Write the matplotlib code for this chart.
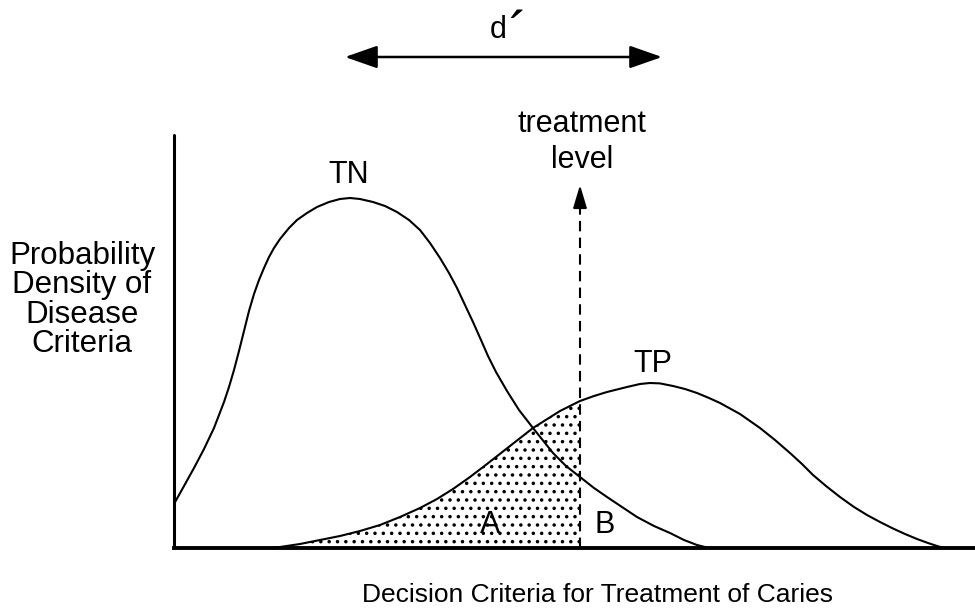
import matplotlib
matplotlib.use("Agg")
import matplotlib.pyplot as plt
import numpy as np

plt.rcParams['font.family'] = ['Liberation Sans', 'DejaVu Sans']
plt.rcParams['hatch.linewidth'] = 1.3

# curves (x = decision criterion, y = density, arbitrary units)
tn_x = [0, 10, 20, 30, 40, 50, 55, 60, 65, 70, 75, 80, 85, 90, 95, 100, 106, 115, 123,
        133, 143, 155, 166, 176, 186, 199, 211, 223, 235, 246, 256, 266, 275, 283, 291,
        299, 307, 314, 322, 333, 345, 359, 379, 392, 406, 420, 433, 448, 463, 480, 496,
        510, 523, 535]
tn_y = [44, 62, 80, 99, 120, 146, 161, 178, 197, 217, 237, 254, 268, 280, 291, 300, 309, 320, 328,
        335, 341, 346, 349, 350, 349, 346, 342, 336, 328, 318, 305, 290, 275, 260, 243,
        226, 208, 192, 176, 157, 138, 120, 95, 82, 71, 60, 51, 41, 31, 22, 15,
        8, 3, 0]

tp_x = [96, 106, 126, 146, 166, 186, 206, 226, 246, 263, 279, 296, 313, 336, 359, 386, 406,
        420, 433, 453, 466, 476, 486, 499, 511, 523, 535, 546, 566, 586, 601, 616, 628, 639,
        652, 666, 680, 693, 706, 719, 731, 743, 754, 763, 770]
tp_y = [0, 1, 4, 8, 12, 17, 23, 31, 40, 49, 59, 71, 84, 102, 120, 137, 147,
        152, 156, 161, 164, 165, 164.6, 162, 159, 155, 150, 145, 134, 120, 108, 95, 84, 73,
        62, 51, 41, 33, 26, 19.5, 14, 9, 5, 2, 0]

treatment = 406
d_prime = [171, 488]

fig = plt.figure(figsize=(9.75, 6.09), dpi=100)
ax = fig.add_axes([174 / 975, 61 / 609, 801 / 975, 413 / 609])
ax.set_xlim(0, 801)
ax.set_ylim(0, 413)

tn_x = np.array(tn_x); tn_y = np.array(tn_y)
tp_x = np.array(tp_x); tp_y = np.array(tp_y)

# area A (stippled)
ax.fill_between(tp_x, tp_y, where=tp_x <= treatment, facecolor='none',
                edgecolor='black', hatch='..', linewidth=0)

ax.plot(tn_x, tn_y, color='black', lw=1.5, solid_capstyle='round', solid_joinstyle='round')
ax.plot(tp_x, tp_y, color='black', lw=1.5, solid_capstyle='round', solid_joinstyle='round')

# treatment level
ax.plot([treatment, treatment], [0, 345], color='black', lw=1.5, ls=(0, (5, 3)))
ax.annotate('', xy=(treatment, 363), xytext=(treatment, 340),
            arrowprops=dict(arrowstyle='-|>,head_length=1.0,head_width=0.3',
                            mutation_scale=14, color='black', lw=1.5,
                            shrinkA=0, shrinkB=0),
            annotation_clip=False)

# d' arrow
ax.annotate('', xy=(d_prime[1], 491), xytext=(d_prime[0], 491),
            arrowprops=dict(arrowstyle='<|-|>,head_length=1.0,head_width=0.35',
                            mutation_scale=20, color='black', lw=1.8,
                            shrinkA=0, shrinkB=0),
            annotation_clip=False)

fs = 22
ax.text(324, 510, "d", fontsize=fs, ha='center', va='baseline', clip_on=False)
ax.text(344, 497, "\u00b4", fontsize=40, ha='center', va='baseline', clip_on=False)
ax.text(175, 373, "TN", fontsize=fs, ha='center', va='center')
ax.text(479, 184, "TP", fontsize=fs, ha='center', va='center')
ax.text(316, 23, "A", fontsize=fs, ha='center', va='center')
ax.text(431, 23, "B", fontsize=fs, ha='center', va='center')
ax.text(408, 406, "treatment\nlevel", fontsize=fs, ha='center', va='center',
        linespacing=1.3, clip_on=False)
ax.text(-92, 248, "Probability\nDensity of\nDisease\nCriteria", fontsize=22.5,
        ha='center', va='center', linespacing=0.98, clip_on=False)
ax.text(424, -47, "Decision Criteria for Treatment of Caries", fontsize=19,
        ha='center', va='center', clip_on=False)

for s in ['top', 'right']:
    ax.spines[s].set_visible(False)
ax.spines['left'].set_linewidth(2.2)
ax.spines['bottom'].set_linewidth(2.8)
ax.spines['left'].set_capstyle('round')
ax.set_xticks([])
ax.set_yticks([])

fig.savefig("out.png", dpi=100)
